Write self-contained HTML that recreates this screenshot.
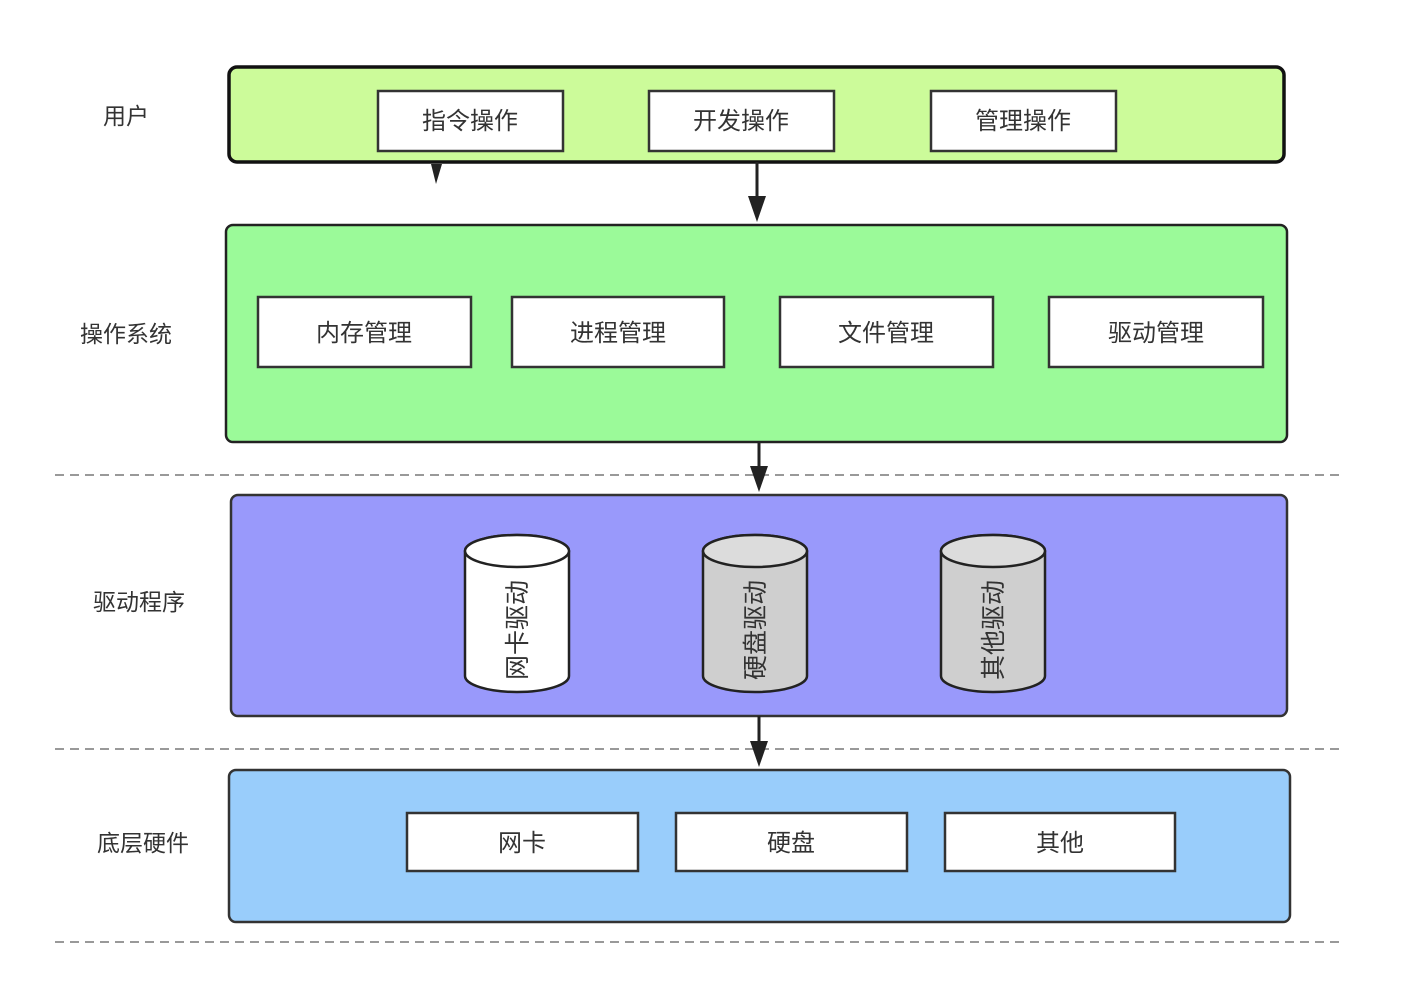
<!DOCTYPE html>
<html><head><meta charset="utf-8"><style>
html,body{margin:0;padding:0;background:#fff;}
svg{display:block;}
text{font-family:"Liberation Sans","Noto Sans CJK SC",sans-serif;fill:#333;}
</style></head><body>
<svg width="1422" height="1002" viewBox="0 0 1422 1002" xmlns="http://www.w3.org/2000/svg">
<g stroke="#999" stroke-width="2" stroke-dasharray="9,6">
<line x1="55" y1="475" x2="1342" y2="475"/>
<line x1="55" y1="749" x2="1342" y2="749"/>
<line x1="55" y1="942" x2="1342" y2="942"/>
</g>
<rect x="229" y="67" width="1055" height="95" rx="8" fill="#ccfb9a" stroke="#111" stroke-width="3.5"/>
<rect x="226" y="225" width="1061" height="217" rx="7" fill="#9bfa99" stroke="#222" stroke-width="2.5"/>
<rect x="231" y="495" width="1056" height="221" rx="7" fill="#9999fb" stroke="#333" stroke-width="2.5"/>
<rect x="229" y="770" width="1061" height="152" rx="7" fill="#99cdfb" stroke="#333" stroke-width="2.5"/>
<g font-size="23" text-anchor="middle">
<text x="126" y="124">用户</text>
<text x="126" y="342">操作系统</text>
<text x="139" y="610">驱动程序</text>
<text x="143" y="851">底层硬件</text>
</g>
<g fill="#fff" stroke="#333" stroke-width="2.5">
<rect x="378" y="91" width="185" height="60"/>
<rect x="649" y="91" width="185" height="60"/>
<rect x="931" y="91" width="185" height="60"/>
<rect x="258" y="297" width="213" height="70"/>
<rect x="512" y="297" width="212" height="70"/>
<rect x="780" y="297" width="213" height="70"/>
<rect x="1049" y="297" width="214" height="70"/>
<rect x="407" y="813" width="231" height="58"/>
<rect x="676" y="813" width="231" height="58"/>
<rect x="945" y="813" width="230" height="58"/>
</g>
<g font-size="24" text-anchor="middle">
<text x="470" y="129">指令操作</text>
<text x="741" y="129">开发操作</text>
<text x="1023" y="129">管理操作</text>
<text x="364" y="341">内存管理</text>
<text x="618" y="341">进程管理</text>
<text x="886" y="341">文件管理</text>
<text x="1156" y="341">驱动管理</text>
<text x="522" y="851">网卡</text>
<text x="791" y="851">硬盘</text>
<text x="1060" y="851">其他</text>
</g>
<g stroke="#222" stroke-width="2.5">
<path d="M465 551 V676 A52 16 0 0 0 569 676 V551 A52 16 0 0 0 465 551 Z" fill="#fff"/>
<ellipse cx="517" cy="551" rx="52" ry="16" fill="#fff"/>
<path d="M703 551 V676 A52 16 0 0 0 807 676 V551 A52 16 0 0 0 703 551 Z" fill="#cfcfcf"/>
<ellipse cx="755" cy="551" rx="52" ry="16" fill="#dcdcdc"/>
<path d="M941 551 V676 A52 16 0 0 0 1045 676 V551 A52 16 0 0 0 941 551 Z" fill="#cfcfcf"/>
<ellipse cx="993" cy="551" rx="52" ry="16" fill="#dcdcdc"/>
</g>
<g font-size="25" text-anchor="middle">
<text transform="translate(526,630) rotate(-90)">网卡驱动</text>
<text transform="translate(764,630) rotate(-90)">硬盘驱动</text>
<text transform="translate(1002,630) rotate(-90)">其他驱动</text>
</g>
<g stroke="#222" stroke-width="3">
<line x1="757" y1="162" x2="757" y2="200"/>
<line x1="759" y1="442" x2="759" y2="470"/>
<line x1="759" y1="716" x2="759" y2="745"/>
</g>
<g fill="#222">
<polygon points="748,196 766,196 757,222"/>
<polygon points="750,466 768,466 759,492"/>
<polygon points="750,741 768,741 759,767"/>
<polygon points="431,164 442,164 436,184"/>
</g>
</svg>
</body></html>
